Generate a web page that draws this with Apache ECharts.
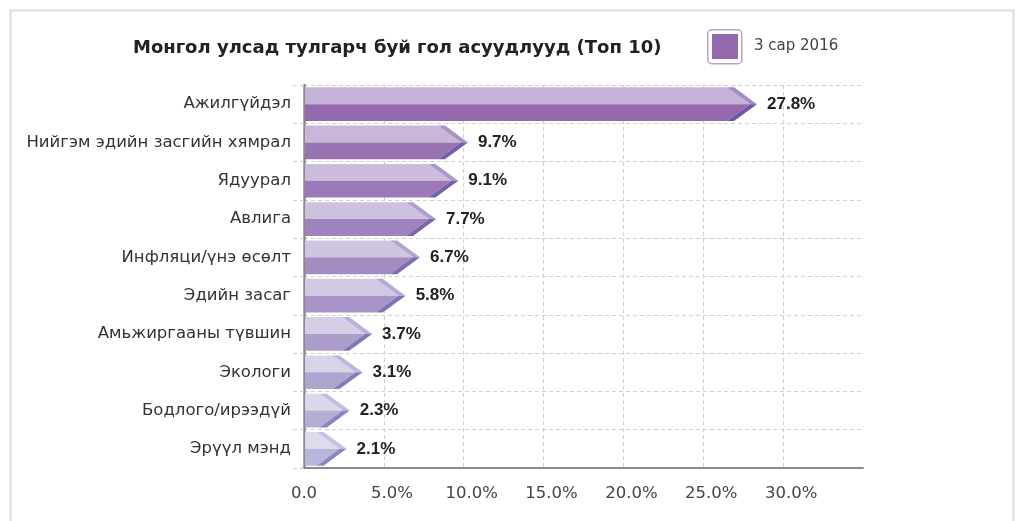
<!DOCTYPE html>
<html>
<head>
<meta charset="utf-8">
<script src="https://cdn.jsdelivr.net/npm/echarts@6/dist/echarts.min.js"></script>
<style>
  html, body { margin: 0; padding: 0; background: #fff; }
  #main { width: 1033px; height: 521px; }
</style>
</head>
<body>
<div id="main"></div>
<script>
// data
var categories = ['Ажилгүйдэл', 'Нийгэм эдийн засгийн хямрал', 'Ядуурал', 'Авлига', 'Инфляци/үнэ өсөлт',
    'Эдийн засаг', 'Амьжиргааны түвшин', 'Экологи', 'Бодлого/ирээдүй', 'Эрүүл мэнд'];
var values = [27.8, 9.7, 9.1, 7.7, 6.7, 5.8, 3.7, 3.1, 2.3, 2.1];
var xTicks = [0, 5, 10, 15, 20, 25, 30, 35];
var seriesName = '3 сар 2016';

// colours go from purple (first bar) to pale lavender (last bar)
var topFrom = [198, 178, 216], topTo = [221, 220, 237];
var botFrom = [149, 105, 173], botTo = [183, 183, 218];
var stripTopFrom = [165, 140, 198], stripTopTo = [196, 194, 226];
var stripBotFrom = [113, 87, 163], stripBotTo = [140, 134, 196];

function mix(a, b, t) {
    return 'rgb(' + Math.round(a[0] + (b[0] - a[0]) * t) + ',' +
        Math.round(a[1] + (b[1] - a[1]) * t) + ',' +
        Math.round(a[2] + (b[2] - a[2]) * t) + ')';
}

var chart = echarts.init(document.getElementById('main'));

function renderArrow(params, api) {
    var idx = api.value(0);
    var val = api.value(1);
    var t = idx / (categories.length - 1);
    var end = api.coord([val, idx]);
    var x0 = api.coord([0, idx])[0] + 1;
    var band = api.size([0, 1])[1];
    var h = band * 0.88;
    var yTop = end[1] - h / 2, yMid = end[1], yBot = end[1] + h / 2;
    var T = end[0] + 9;        // tip of the arrow
    var D = h * 0.68;          // depth of the chevron
    var w = 7;                 // width of the shaded edge
    if (T - D - w < x0) { T = x0 + D + w; }
    return {
        type: 'group',
        children: [
            { type: 'polygon', shape: { points: [[x0, yTop], [T - D - w, yTop], [T - w, yMid], [x0, yMid]] },
                style: { fill: mix(topFrom, topTo, t) } },
            { type: 'polygon', shape: { points: [[T - D - w, yTop], [T - D, yTop], [T, yMid], [T - w, yMid]] },
                style: { fill: mix(stripTopFrom, stripTopTo, t) } },
            { type: 'polygon', shape: { points: [[x0, yMid], [T - w, yMid], [T - D - w, yBot], [x0, yBot]] },
                style: { fill: mix(botFrom, botTo, t) } },
            { type: 'polygon', shape: { points: [[T - w, yMid], [T, yMid], [T - D, yBot], [T - D - w, yBot]] },
                style: { fill: mix(stripBotFrom, stripBotTo, t) } },
            { type: 'text', x: T + 10, y: yMid,
                style: { text: val.toFixed(1) + '%', fill: '#222', font: 'bold 17px "Liberation Sans", Arial, sans-serif',
                    verticalAlign: 'middle', align: 'left' } }
        ]
    };
}

var option = {
    animation: false,
    title: {
        text: 'Монгол улсад тулгарч буй гол асуудлууд (Топ 10)',
        left: 133, top: 39, padding: 0,
        textStyle: { fontFamily: '"DejaVu Sans", sans-serif', fontSize: 18, fontWeight: 'bold', color: '#222' }
    },
    legend: {
        left: 712, top: 34, padding: 0,
        icon: 'rect',
        itemWidth: 26, itemHeight: 25,
        data: [seriesName],
        textStyle: { fontFamily: '"DejaVu Sans", sans-serif', fontSize: 15, color: '#444', padding: [6, 0, 0, 11] }
    },
    graphic: [
        { type: 'rect', left: 8, top: 8, shape: { width: 1003, height: 600 },
            style: { fill: 'none', stroke: '#dcdcdc', lineWidth: 2 }, silent: true, z: -1 },
        { type: 'rect', left: 707, top: 29, shape: { width: 34, height: 34, r: 4 },
            style: { fill: '#fff', stroke: '#b9a2cf', lineWidth: 1.5 }, silent: true, z: -1 }
    ],
    grid: { left: 304, right: 170, top: 85, bottom: 53 },
    xAxis: {
        type: 'value', min: xTicks[0], max: xTicks[xTicks.length - 1], interval: 5,
        axisLine: { show: true, lineStyle: { color: '#8a8a8a', width: 2 } },
        axisTick: { show: false },
        axisLabel: {
            margin: 17, showMaxLabel: false,
            color: '#444', fontSize: 16.5, fontFamily: '"DejaVu Sans", sans-serif',
            // the number sits on the tick and the % sign trails after it
            formatter: function (v) { return v === 0 ? '0.0' : '{p|' + v.toFixed(1) + '%}'; },
            rich: { p: { padding: [0, 0, 0, 16], color: '#444', fontSize: 16.5, fontFamily: '"DejaVu Sans", sans-serif' } }
        },
        splitLine: {
            show: true,
            lineStyle: { type: [4, 3], width: 1,
                color: ['rgba(0,0,0,0)', '#cfcfcf', '#cfcfcf', '#cfcfcf', '#cfcfcf', '#cfcfcf', '#cfcfcf', 'rgba(0,0,0,0)'] }
        }
    },
    yAxis: {
        type: 'category', inverse: true, data: categories,
        axisLine: { show: true, lineStyle: { color: '#8a8a8a', width: 2.5 } },
        axisTick: { show: true, length: 11, lineStyle: { color: '#cfcfcf', type: [4, 3] } },
        axisLabel: { margin: 13, color: '#333', fontSize: 16.5, fontFamily: '"DejaVu Sans", sans-serif' },
        splitLine: { show: true, lineStyle: { color: '#cfcfcf', type: [4, 3] } }
    },
    series: [{
        name: seriesName,
        type: 'custom',
        renderItem: renderArrow,
        itemStyle: { color: '#9468ad' },
        encode: { x: 1, y: 0 },
        data: values.map(function (v, i) { return [i, v]; })
    }]
};

chart.setOption(option);
</script>
</body>
</html>
